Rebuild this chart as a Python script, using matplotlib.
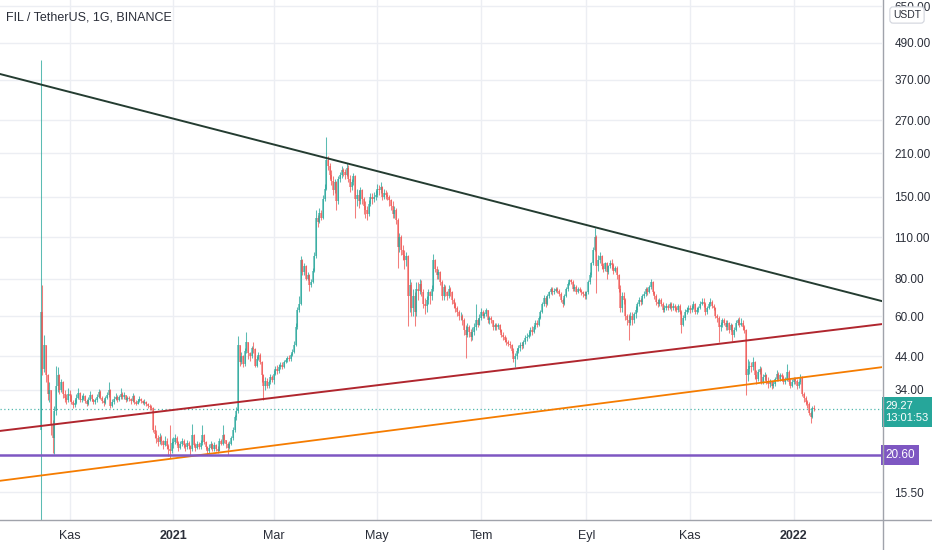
import numpy as np
import pandas as pd
import matplotlib
matplotlib.use('Agg')
import matplotlib.pyplot as plt
import matplotlib.dates as mdates
from matplotlib.lines import Line2D

# FIL / USDT daily candles, 2020-10-15 .. 2022-01-13
first_open = 25.0
closes = [
    # Oct 2020 (15..31)
    62, 40, 48, 38, 33, 34, 26, 23.5, 29, 35, 38, 34, 36, 33, 32, 31.5, 33,
    # Nov 2020
    32.5, 31.0, 30.2, 30.8, 32.0, 33.2, 31.5, 31.8, 32.4, 31.2, 30.6, 31.5, 32.8, 31.6, 30.9,
    31.4, 32.2, 33.5, 32.0, 31.2, 30.8, 31.9, 32.6, 34.0, 30.1, 30.9, 31.8, 32.3, 31.5, 32.1,
    # Dec 2020
    33.0, 32.2, 32.6, 31.4, 32.0, 31.7, 31.2, 32.5, 31.0, 30.6, 31.3, 31.8, 31.2, 30.8, 31.0, 30.5,
    30.0, 29.8, 29.6, 25.0, 24.2, 23.5, 22.8, 23.6, 22.9, 22.3, 23.0, 22.0, 21.5, 21.2, 22.6,
    # Jan 2021
    22.8, 23.5, 22.6, 21.8, 22.4, 23.0, 22.2, 21.9, 22.6, 22.1, 21.5, 24.0, 22.3, 21.8, 22.4, 21.9,
    22.6, 24.1, 22.8, 21.9, 21.2, 21.8, 22.4, 21.5, 22.2, 21.6, 21.3, 23.0, 22.5, 24.0, 23.1,
    # Feb 2021
    22.4, 21.8, 22.5, 23.4, 25.0, 27.5, 29.0, 48, 42, 44, 41.5, 46, 49, 45, 44, 47, 46.5, 41, 43,
    44.5, 42, 38, 35, 36.5, 35, 36, 37.5, 36.8,
    # Mar 2021
    38.5, 40.0, 39.2, 40.6, 41.2, 40.5, 42.0, 42.8, 43.5, 43.0, 44.5, 45.5, 48, 55, 63, 66, 92, 84,
    88, 80, 82, 76, 78, 85, 95, 128, 124, 133, 128, 148, 160,
    # Apr 2021
    200, 190, 178, 170, 158, 168, 145, 172, 178, 185, 182, 178, 188, 172, 162, 168, 176, 148, 152,
    145, 158, 148, 140, 136, 132, 142, 150, 148, 150, 152,
    # May 2021
    160, 158, 162, 150, 155, 152, 150, 146, 140, 132, 136, 126, 102, 110, 100, 96, 92, 95, 70, 76,
    64, 70, 62, 74, 73, 77, 72, 66, 65, 68, 72,
    # Jun 2021
    70, 74, 92, 86, 82, 84, 78, 70, 75, 72, 70, 74, 72, 68, 66, 64, 62, 60, 60, 58, 54, 52, 55, 53,
    51, 53, 55, 58, 56, 59,
    # Jul 2021
    62, 60, 61, 63, 58, 59, 58, 55, 56, 55, 56, 54, 52, 51, 50, 49, 48.5, 48, 46, 43, 44, 46, 47, 48,
    47.5, 49, 50.5, 51, 52, 54, 53,
    # Aug 2021
    55, 57, 56, 59, 62, 66, 69, 66, 70, 72, 74, 72, 73, 74, 73, 71, 68, 66, 70, 74, 77, 79, 78, 74,
    75, 72, 74, 73, 72, 71, 70,
    # Sep 2021
    72, 78, 82, 90, 100, 110, 88, 92, 95, 88, 86, 90, 84, 88, 90, 89, 85, 87, 82, 74, 64, 70, 68, 60,
    58, 57, 60, 58, 61, 63,
    # Oct 2021
    66, 68, 67, 70, 71, 74, 72, 75, 78, 72, 70, 67, 66, 68, 66, 63, 64, 65, 64, 66, 64, 65, 64, 63,
    65, 62, 56, 59, 62, 63, 64,
    # Nov 2021
    63, 64, 66, 62, 63, 64, 66, 67, 66, 62, 64, 66, 67, 65, 64, 60, 59, 55, 56, 58, 57, 55, 57, 54,
    56, 52, 54, 57, 58, 56,
    # Dec 2021
    57, 55, 54, 38, 40, 41, 40.5, 42, 38, 37, 39, 40, 36, 37.5, 38, 36.5, 35.5, 36, 35, 35.5, 37,
    38.5, 37, 38, 37.5, 36, 37, 39, 36, 35, 36,
    # Jan 2022 (1..13)
    37, 36.5, 35, 36, 37.5, 33, 32, 31, 30.5, 28.5, 27.5, 29.5, 29.27,
]
highs = [
    430, 76, 52, 48, 38.5, 36, 34, 27, 30, 41, 40.5, 38.5, 37, 36.5, 34, 33, 34.5,
    34, 33, 31.5, 31.8, 33, 34.5, 33.5, 32.6, 33.2, 32.6, 31.6, 32.2, 33.6, 33, 31.8,
    32, 33, 34.2, 34, 32.4, 31.6, 32.5, 33.4, 36, 34.2, 31.6, 32.4, 33.2, 32.6, 32.8,
    34.5, 33.5, 33.4, 32.8, 32.5, 32.4, 32, 33.2, 32.6, 31.4, 31.8, 32.4, 32, 31.5, 31.6, 31.3,
    30.8, 30.4, 30.2, 29.8, 26, 25, 24, 24.4, 24, 23.2, 23.8, 23.4, 22.5, 26, 23.4,
    23.6, 24.2, 23.8, 22.9, 22.9, 23.5, 23.3, 22.6, 23.1, 22.9, 22.3, 26.2, 24.3, 22.6, 22.9, 22.7,
    23.1, 26, 24.3, 23, 22, 22.4, 22.9, 22.6, 22.7, 22.4, 22, 23.5, 23.3, 26, 24.2,
    23, 22.8, 22.9, 23.8, 25.6, 28, 29.8, 51.6, 48, 45.5, 44.5, 47, 53, 49, 45.5, 47.5, 49, 47, 44,
    45.5, 45, 42.5, 38.5, 37.5, 37.2, 36.8, 38.5, 38.2,
    39.5, 41, 41.2, 41.5, 42, 42, 42.8, 43.6, 44.2, 44.5, 45.2, 46.4, 49.5, 57, 64.5, 70, 95, 93,
    90, 89, 84, 83, 80, 86.5, 98, 136, 131, 138, 136, 152, 166,
    237, 205, 195, 184, 176, 172, 170, 176, 182, 190, 188, 186, 194, 192, 178, 172, 180, 177, 160,
    158, 162, 160, 150, 145, 140, 146, 155, 154, 156, 158,
    166, 164, 168, 163, 160, 158, 156, 152, 148, 145, 140, 138, 128, 114, 112, 104, 100, 98, 96, 80,
    78, 74, 72, 78, 78, 80, 79, 74, 69, 70, 74,
    73, 76, 97, 93, 88, 86, 85, 79, 77, 76, 73, 76, 75, 73, 69, 67, 65, 63, 62, 61, 59, 56, 57, 56,
    54.5, 55, 57, 66, 59, 61,
    64, 63, 62, 64, 63, 60, 60, 58, 57, 57, 57, 56.5, 54.5, 53, 52, 51, 50, 49.5, 48.5, 47, 45, 47,
    48, 49, 49, 50, 52, 52.5, 53.5, 55, 55.5,
    56, 58, 58, 60, 63, 67, 70.5, 70, 71, 73, 75, 75, 74.5, 75, 75, 74, 72, 69, 71, 75, 78, 80, 80,
    79, 76.5, 76, 75, 75, 74, 73, 72.5,
    73, 79, 84, 91, 102, 118, 112, 96, 98, 96, 90, 91, 91, 89, 92, 93, 90, 88, 88, 83, 76, 72, 72,
    69, 61, 61, 62, 62, 62, 65,
    67, 69.5, 69, 71, 72.5, 75, 75, 76, 80, 78.5, 73, 71, 68.5, 69, 69, 67, 65.5, 66.5, 66, 67, 67,
    66.5, 66, 65, 66, 66, 63, 60.5, 63.5, 64.5, 65.5,
    65.5, 65.5, 67.5, 66.5, 64.5, 65, 67.5, 69, 69, 67, 65, 67, 69, 68, 66, 64.5, 61, 60, 57.5, 59,
    59, 58, 58, 57.5, 57, 56.5, 55, 58, 59, 59.5,
    59, 58, 56, 54.5, 43, 42.5, 42, 43.8, 42.5, 39.5, 40, 41, 40.5, 38.5, 39, 38.5, 37.5, 37, 36.5,
    36.5, 37.5, 39.5, 39, 38.6, 38.8, 38, 37.5, 41.5, 39.5, 37, 37,
    37.5, 37.5, 37, 36.5, 38.5, 37.8, 33.5, 32.5, 31.5, 31, 29, 30, 30.2,
]
lows = [
    9, 38, 39, 36, 31.5, 31, 24, 21, 20.7, 28, 33.5, 33, 33.5, 32, 31, 30.5, 31,
    31.2, 30.5, 29.6, 29.8, 30.5, 31.6, 31, 31, 31.5, 30.8, 30, 30.3, 31.2, 31.2, 30.4,
    30.5, 31, 32, 31.6, 30.8, 30, 30.5, 31.6, 32.2, 29.5, 29.8, 30.6, 31.5, 31, 31.2,
    31.8, 31.6, 31.8, 31, 31.2, 31.2, 30.6, 31, 30.6, 30.2, 30.4, 31, 30.8, 30.4, 30.3, 30,
    29.6, 29.2, 29.1, 24.6, 23.5, 22.6, 22, 22.4, 22.2, 21.6, 22.1, 21.5, 20.5, 20.2, 21,
    21.8, 22.4, 22.2, 21.2, 21.5, 22, 21.8, 21.3, 21.6, 21.6, 20.6, 21.2, 22, 21.3, 21.5, 21.5,
    21.6, 22.3, 22.5, 21.5, 20.6, 20.8, 21.5, 21.2, 21.3, 21.2, 20.9, 21.2, 22.2, 22.2, 22.6,
    21.8, 20.6, 21.5, 22.2, 23.2, 24.6, 27, 28.5, 41, 41.5, 40.5, 41, 45, 43, 42.5, 43.5, 45, 40.5,
    40.5, 42.8, 41.5, 36, 31.4, 34, 34.5, 34.6, 35.5, 36,
    35.6, 38, 38.4, 38.8, 40, 39.8, 40.2, 41.8, 42.2, 42.4, 42.6, 44, 45, 47.5, 54.5, 62, 65.5, 82,
    82.5, 79, 79, 73, 75, 77.5, 84, 94, 119, 123, 126, 127, 145,
    158, 185, 172, 165, 152, 154, 136, 142, 168, 174, 176, 172, 176, 168, 156, 158, 164, 128, 140,
    138, 142, 142, 132, 128, 126, 130, 140, 142, 144, 146,
    150, 152, 154, 146, 148, 148, 146, 140, 136, 128, 128, 122, 87, 98, 96, 92, 86, 88, 55.6, 62,
    60, 60, 55.6, 60, 68, 71, 70, 64, 61, 62, 66,
    66, 68, 73, 84, 80, 80, 76, 68, 68, 70, 68, 69, 70, 66, 64, 62, 60, 58, 58, 56, 52, 43.6, 51,
    51, 49.5, 50, 52, 54, 55, 56,
    58, 59, 59, 60, 57, 56.5, 57, 54, 54, 54, 54.5, 53, 51, 50, 49, 48, 47.5, 47, 45, 42, 40.6, 43,
    45, 46, 46.5, 47, 48.5, 49.5, 50.5, 51.5, 52,
    52.5, 54.5, 55, 55.5, 58.5, 61.5, 65, 64.5, 65.5, 69, 71, 70.5, 71, 72, 71.5, 70, 67, 64.5, 65.5,
    69.5, 73, 76, 76.5, 73, 72.5, 71, 71.5, 72, 70.5, 69.5, 68.5,
    68.5, 71, 77, 81, 89, 99, 71.6, 85, 90, 86, 84, 85, 80, 83, 87, 86, 83, 84, 80, 72, 62, 62, 66,
    58, 56, 50, 56, 56, 57, 59,
    62, 65, 65.5, 66, 69, 70, 70.5, 71.5, 74, 71, 68.5, 65.5, 64.5, 65, 65, 62, 62, 63, 63, 63.5,
    62.5, 63, 62.5, 62, 62, 61, 52.6, 55.5, 58, 61, 62,
    61.5, 62, 63.5, 61, 61, 62, 63.5, 65.5, 64.5, 60.5, 61, 63.5, 65, 64, 63, 59, 57.5, 49, 53.5, 55,
    56, 54, 54, 52.5, 53.5, 49.5, 51, 53.5, 56, 55,
    55.5, 54, 52.5, 32.7, 36.5, 38.5, 39, 39.5, 37, 35.5, 36.5, 38.5, 35.5, 35.5, 36.8, 35.5, 34.6,
    34.8, 34.2, 34.5, 35, 36.5, 36.5, 36.5, 36.8, 35.5, 35.5, 36.5, 35.5, 34.5, 34.8,
    35.5, 35.5, 34.3, 34.5, 35.5, 32.5, 31, 30.2, 29.5, 28, 26.3, 27.3, 28.8,
]

# drawn lines (anchor dates at the chart edges)
line_dates = ['2020-09-21', '2022-02-22']
resistance = [386, 67.3]
support_red = [24.8, 56.4]
support_orange = [16.9, 40.5]
level = 20.60
last_price = 29.27
countdown = '13:01:53'

price_ticks = [15.5, 34, 44, 60, 80, 110, 150, 210, 270, 370, 490, 650]
month_ticks = ['2020-11-01', '2021-01-01', '2021-03-01', '2021-05-01',
               '2021-07-01', '2021-09-01', '2021-11-01', '2022-01-01']
month_labels = ['Kas', '2021', 'Mar', 'May', 'Tem', 'Eyl', 'Kas', '2022']

UP = '#26a69a'
DOWN = '#ef5350'
TXT = '#2a2e39'

plt.rcParams['font.family'] = ['Liberation Sans', 'DejaVu Sans']

n = min(len(closes), len(highs), len(lows))
c = np.array(closes[:n], dtype=float)
o = np.r_[first_open, c[:-1]]
h = np.maximum(np.array(highs[:n], dtype=float), np.maximum(o, c))
l = np.minimum(np.array(lows[:n], dtype=float), np.minimum(o, c))
x = mdates.date2num(pd.date_range('2020-10-15', periods=n, freq='D'))
col = np.where(c >= o, UP, DOWN)

fig = plt.figure(figsize=(9.32, 5.5), dpi=100)
ax = fig.add_axes([0, 30 / 550, 882 / 932, 520 / 550])
ax.set_yscale('log')

xl = mdates.date2num(pd.to_datetime(line_dates))
ax.set_xlim(xl[0], xl[1])
ax.set_ylim(12.5, 682)

# candles
ax.vlines(x, l, h, colors=col, lw=0.75, alpha=0.75, zorder=3)
ax.vlines(x, np.minimum(o, c), np.maximum(o, c), colors=col, lw=1.1, alpha=0.75, zorder=3)

# drawings
ax.plot(xl, resistance, color='#243c31', lw=1.4, zorder=4)
ax.plot(xl, support_red, color='#b0262e', lw=1.4, zorder=4)
ax.plot(xl, support_orange, color='#f57c00', lw=1.3, zorder=4)
ax.axhline(level, color='#7e57c2', lw=1.8, zorder=4)
ax.axhline(last_price, color=UP, lw=0.9, ls=(0, (1, 2)), alpha=0.8, zorder=2)

# axes styling
ax.set_yticks(price_ticks)
ax.set_yticklabels(['%.2f' % p for p in price_ticks])
ax.yaxis.set_minor_locator(plt.NullLocator())
ax.yaxis.tick_right()
ax.set_xticks(mdates.date2num(pd.to_datetime(month_ticks)))
ax.set_xticklabels(month_labels)
ax.tick_params(axis='y', length=0, pad=9, labelsize=8.5, labelcolor=TXT)
ax.tick_params(axis='x', length=0, pad=7, labelsize=9, labelcolor=TXT)
for t in ax.get_xticklabels():
    if t.get_text().isdigit():
        t.set_fontweight('bold')
ax.grid(True, color='#eceef3', lw=1, zorder=0)
for s in ax.spines.values():
    s.set_visible(False)

fig.add_artist(Line2D([882.5 / 932, 882.5 / 932], [0, 1], color='#a0a3ab', lw=1))
fig.add_artist(Line2D([0, 1], [30 / 550, 30 / 550], color='#a0a3ab', lw=1))

# price labels on the scale
ax.annotate('%.2f\n%s' % (last_price, countdown), xy=(1, last_price),
            xycoords=('axes fraction', 'data'), xytext=(2.5, 6), textcoords='offset points',
            ha='left', va='top', color='white', fontsize=8, linespacing=1.25,
            bbox=dict(boxstyle='square,pad=0.35', fc=UP, ec='none'), annotation_clip=False)
ax.annotate('%.2f' % level, xy=(1, level), xycoords=('axes fraction', 'data'),
            xytext=(2.5, 0), textcoords='offset points', ha='left', va='center',
            color='white', fontsize=8.5,
            bbox=dict(boxstyle='square,pad=0.35', fc='#7e57c2', ec='none'), annotation_clip=False)

fig.text(907 / 932, 1 - 15 / 550, 'USDT', ha='center', va='center', fontsize=7.5, color=TXT,
         bbox=dict(boxstyle='round,pad=0.3,rounding_size=0.3', fc='white', ec='#d1d4dc', lw=0.8))
fig.text(6 / 932, 1 - 17 / 550, 'FIL / TetherUS, 1G, BINANCE', ha='left', va='center',
         fontsize=9, color=TXT)

fig.savefig('out.png', dpi=100, facecolor='white')
